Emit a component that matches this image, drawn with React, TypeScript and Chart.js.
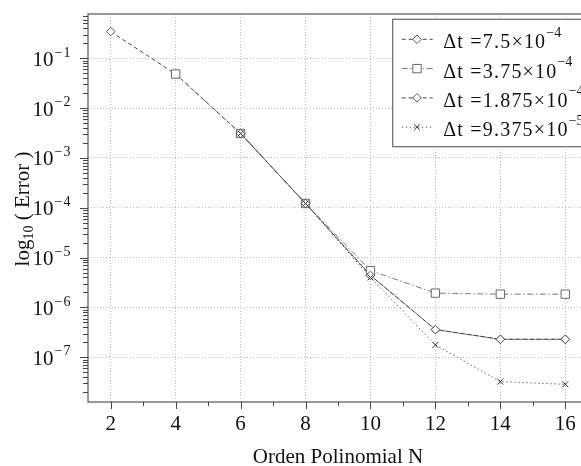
import React, { useEffect, useRef } from 'react';
import { Chart, registerables } from 'chart.js';

Chart.register(...registerables);

// ---- data ----
const polyN = [2, 4, 6, 8, 10, 12, 14, 16];
const errDt75 = [0.343, 0.0483, 3.1e-3, 1.22e-4, 4.4e-6, 3.6e-7, 2.3e-7, 2.3e-7];
const errDt375 = [null, 0.0483, 3.1e-3, 1.22e-4, 5.5e-6, 1.94e-6, 1.85e-6, 1.85e-6];
const errDt1875 = [null, null, 3.1e-3, 1.22e-4, 4.4e-6, 3.6e-7, 2.3e-7, 2.3e-7];
const errDt9375 = [null, null, 3.1e-3, 1.22e-4, 4.0e-6, 1.77e-7, 3.25e-8, 2.87e-8];

const legendMain = ['Δt =7.5×10', 'Δt =3.75×10', 'Δt =1.875×10', 'Δt =9.375×10'];
const legendExp = ['-4', '-4', '-4', '-5'];

const xTicks = [2, 4, 6, 8, 10, 12, 14, 16];
const yDecades = [-7, -6, -5, -4, -3, -2, -1];

const xTitle = 'Orden Polinomial N';
const FONT = '"Liberation Serif", "Times New Roman", serif';

function pts(arr: (number | null)[]) {
  return polyN
    .map((x, i) => ({ x, y: arr[i] }))
    .filter((p) => p.y !== null) as { x: number; y: number }[];
}

function drawMarker(ctx: CanvasRenderingContext2D, style: string, x: number, y: number, r: number, color: string) {
  ctx.save();
  ctx.setLineDash([]);
  ctx.strokeStyle = color;
  ctx.fillStyle = '#fff';
  ctx.lineWidth = 1;
  ctx.beginPath();
  if (style === 'rectRot') {
    ctx.moveTo(x - r, y);
    ctx.lineTo(x, y - r);
    ctx.lineTo(x + r, y);
    ctx.lineTo(x, y + r);
    ctx.closePath();
    ctx.fill();
    ctx.stroke();
  } else if (style === 'rect') {
    const s = r * Math.SQRT1_2;
    ctx.rect(x - s, y - s, 2 * s, 2 * s);
    ctx.fill();
    ctx.stroke();
  } else {
    const s = r * Math.SQRT1_2;
    ctx.moveTo(x - s, y - s);
    ctx.lineTo(x + s, y + s);
    ctx.moveTo(x + s, y - s);
    ctx.lineTo(x - s, y + s);
    ctx.stroke();
  }
  ctx.restore();
}

const decor = {
  id: 'decor',
  afterDraw(chart: any) {
    const { ctx, chartArea: a } = chart;
    const xs = chart.scales.x;
    const ys = chart.scales.y;
    ctx.save();
    ctx.setLineDash([]);

    // frame
    ctx.strokeStyle = '#555';
    ctx.lineWidth = 1.2;
    ctx.strokeRect(a.left, a.top, a.right - a.left, a.bottom - a.top);

    // x ticks
    ctx.lineWidth = 1;
    ctx.strokeStyle = '#444';
    ctx.beginPath();
    for (let v = Math.ceil(xs.min); v <= xs.max; v++) {
      const px = Math.round(xs.getPixelForValue(v)) + 0.5;
      const len = xTicks.includes(v) ? 7 : 4;
      ctx.moveTo(px, a.bottom);
      ctx.lineTo(px, a.bottom + len);
    }
    // y ticks
    for (let k = -9; k <= 1; k++) {
      for (let m = 1; m <= 9; m++) {
        const v = m * Math.pow(10, k);
        if (v < ys.min || v > ys.max) continue;
        const py = Math.round(ys.getPixelForValue(v)) + 0.5;
        const len = m === 1 ? 8 : 5;
        ctx.moveTo(a.left - len, py);
        ctx.lineTo(a.left, py);
      }
    }
    ctx.stroke();

    // x labels
    ctx.fillStyle = '#111';
    ctx.font = `21px ${FONT}`;
    ctx.textAlign = 'center';
    ctx.textBaseline = 'alphabetic';
    xTicks.forEach((v) => {
      ctx.fillText(String(v), xs.getPixelForValue(v), a.bottom + 27.5);
    });

    // y labels
    yDecades.forEach((d) => {
      const py = ys.getPixelForValue(Math.pow(10, d));
      ctx.font = `21px ${FONT}`;
      ctx.textAlign = 'right';
      ctx.fillText('10', 53.5, py + 7.4);
      ctx.font = `14px ${FONT}`;
      ctx.textAlign = 'left';
      (ctx as any).letterSpacing = '1px';
      ctx.fillText('\u2212' + String(-d), 54.5, py - 1.8);
      (ctx as any).letterSpacing = '0px';
    });

    // x title
    ctx.font = `21px ${FONT}`;
    ctx.textAlign = 'center';
    ctx.fillText(xTitle, (a.left + a.right) / 2, 463);

    // y title
    ctx.save();
    const cy = (a.top + a.bottom) / 2 + 1;
    ctx.translate(29, cy);
    ctx.rotate(-Math.PI / 2);
    ctx.textAlign = 'left';
    ctx.font = `21px ${FONT}`;
    const w1 = ctx.measureText('log').width;
    const w3 = ctx.measureText(' ( Error )').width;
    ctx.font = `14px ${FONT}`;
    const w2 = ctx.measureText('10').width;
    let x0 = -(w1 + w2 + w3) / 2;
    ctx.font = `21px ${FONT}`;
    ctx.fillText('log', x0, 0);
    x0 += w1;
    ctx.font = `14px ${FONT}`;
    ctx.fillText('10', x0, 4);
    x0 += w2;
    ctx.font = `21px ${FONT}`;
    ctx.fillText(' ( Error )', x0, 0);
    ctx.restore();

    // legend
    const lx = 392.7;
    const ly = 19.3;
    ctx.fillStyle = '#fff';
    ctx.fillRect(lx, ly, 230, 127.4);
    ctx.strokeStyle = '#666';
    ctx.lineWidth = 1.2;
    ctx.strokeRect(lx, ly, 230, 127.4);
    chart.data.datasets.forEach((ds: any, i: number) => {
      const ry = 39.3 + i * 29.3;
      ctx.save();
      ctx.strokeStyle = ds.borderColor;
      ctx.lineWidth = 1;
      ctx.setLineDash(ds.borderDash || []);
      ctx.beginPath();
      ctx.moveTo(401.7, ry);
      ctx.lineTo(432.7, ry);
      ctx.stroke();
      ctx.restore();
      drawMarker(ctx, ds.pointStyle, 417, ry, ds.pointStyle === 'rect' ? 5.9 : ds.pointStyle === 'rectRot' ? 4.3 : 4, ds.pointBorderColor);
      ctx.fillStyle = '#111';
      ctx.textAlign = 'left';
      ctx.font = `20px ${FONT}`;
      (ctx as any).letterSpacing = '1.2px';
      ctx.fillText(legendMain[i], 443.3, ry + 9);
      const mw = ctx.measureText(legendMain[i]).width;
      (ctx as any).letterSpacing = '0px';
      ctx.font = `14px ${FONT}`;
      ctx.fillText(legendExp[i].replace('-', '\u2212'), 443.3 + mw, ry - 2.5);
    });

    ctx.restore();
  },
};

export default function App() {
  const ref = useRef<HTMLCanvasElement | null>(null);

  useEffect(() => {
    document.body.style.margin = '0';
    const canvas = ref.current;
    if (!canvas) return;
    const chart = new Chart(canvas, {
      type: 'line',
      data: {
        datasets: [
          {
            label: legendMain[0] + legendExp[0],
            data: pts(errDt75),
            borderColor: '#444',
            borderWidth: 1,
            borderDash: [4, 3],
            pointStyle: 'rectRot',
            pointRadius: 4.3,
            pointBorderColor: '#555',
            pointBackgroundColor: '#fff',
            pointBorderWidth: 1,
            fill: false,
            tension: 0,
            order: 4,
          },
          {
            label: legendMain[1] + legendExp[1],
            data: pts(errDt375),
            borderColor: '#777',
            borderWidth: 1,
            borderDash: [6, 2.5, 1.5, 2.5],
            pointStyle: 'rect',
            pointRadius: 5.9,
            pointBorderColor: '#666',
            pointBackgroundColor: '#fff',
            pointBorderWidth: 1,
            fill: false,
            tension: 0,
            order: 3,
          },
          {
            label: legendMain[2] + legendExp[2],
            data: pts(errDt1875),
            borderColor: '#444',
            borderWidth: 1,
            borderDash: [4, 3],
            pointStyle: 'rectRot',
            pointRadius: 4.3,
            pointBorderColor: '#555',
            pointBackgroundColor: '#fff',
            pointBorderWidth: 1,
            fill: false,
            tension: 0,
            order: 2,
          },
          {
            label: legendMain[3] + legendExp[3],
            data: pts(errDt9375),
            borderColor: '#666',
            borderWidth: 1,
            borderDash: [1.5, 2.5],
            pointStyle: 'crossRot',
            pointRadius: 4.2,
            pointBorderColor: '#333',
            pointBackgroundColor: '#fff',
            pointBorderWidth: 1,
            fill: false,
            tension: 0,
            order: 1,
          },
        ],
      },
      options: {
        animation: false,
        responsive: false,
        devicePixelRatio: 1,
        layout: { padding: { top: 14, right: 12, left: 0, bottom: 0 } },
        plugins: {
          legend: { display: false },
          tooltip: { enabled: false },
        },
        scales: {
          x: {
            type: 'linear',
            min: 1.3,
            max: 16.7,
            afterBuildTicks: (s: any) => {
              s.ticks = xTicks.map((v) => ({ value: v }));
            },
            afterFit: (s: any) => {
              s.height = 64;
            },
            ticks: { display: false },
            grid: { color: '#bdbdbd', lineWidth: 1, drawTicks: false },
            border: { display: false, dash: [1, 2] },
          },
          y: {
            type: 'logarithmic',
            min: Math.pow(10, -7.897),
            max: Math.pow(10, -0.111),
            afterBuildTicks: (s: any) => {
              s.ticks = yDecades.map((d) => ({ value: Math.pow(10, d) }));
            },
            afterFit: (s: any) => {
              s.width = 88;
            },
            ticks: { display: false },
            grid: { color: '#bdbdbd', lineWidth: 1, drawTicks: false },
            border: { display: false, dash: [1, 2] },
          },
        },
      } as any,
      plugins: [decor],
    });
    return () => chart.destroy();
  }, []);

  return (
    <div style={{ width: 581, height: 466, overflow: 'hidden', position: 'relative' }}>
      <canvas ref={ref} width={600} height={466} style={{ display: 'block' }} />
    </div>
  );
}
